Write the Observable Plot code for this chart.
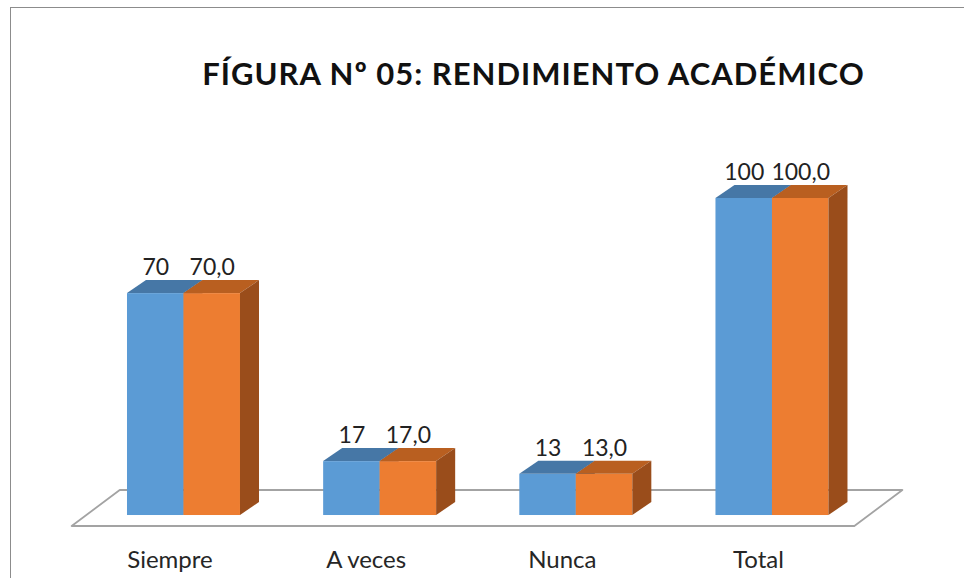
<!DOCTYPE html>
<html>
<head>
<meta charset="utf-8">
<script src="https://cdn.jsdelivr.net/npm/d3@7"></script>
<script src="https://cdn.jsdelivr.net/npm/@observablehq/plot@0.6"></script>
<style>
  html, body { margin: 0; padding: 0; background: #fff; }
  #wrap { position: relative; width: 964px; height: 578px; overflow: hidden; }
  #border { position: absolute; left: 10px; top: 7px; width: 2000px; height: 2000px;
            border-left: 1.5px solid #8c8c8c; border-top: 1.5px solid #8c8c8c; pointer-events: none; }
</style>
</head>
<body>
<div id="wrap"><div id="border"></div></div>
<script>
// ---- data ----
const title = "FÍGURA Nº 05: RENDIMIENTO ACADÉMICO";
const categories = ["Siempre", "A veces", "Nunca", "Total"];
const frecuencia = [70, 17, 13, 100];
const porcentaje = [70.0, 17.0, 13.0, 100.0];
const frecuenciaLabels = ["70", "17", "13", "100"];
const porcentajeLabels = ["70,0", "17,0", "13,0", "100,0"];

// ---- styling / geometry (data units) ----
const frontColors = ["#5B9BD5", "#ED7D31"];
const topColors = ["#4677A6", "#B95F20"];
const sideColors = ["#3E6A94", "#9A4D1B"];
const barW = 0.288;          // width of one bar in category units
const depthX = 0.097;        // 3D depth offset in x (category units)
const depthY = 4.1;          // 3D depth offset in y (value units)

const series = [frecuencia, porcentaje];
const seriesLabels = [frecuenciaLabels, porcentajeLabels];
const bars = [];
series.forEach((vals, s) => {
  vals.forEach((v, i) => {
    const x0 = i - barW + s * barW;
    bars.push({id: `${s}-${i}`, s, i, v, x0, x1: x0 + barW, label: seriesLabels[s][i]});
  });
});

const topPts = [], sidePts = [];
for (const b of bars) {
  topPts.push({id: b.id, s: b.s, y: b.v, xa: b.x0, xb: b.x1});
  topPts.push({id: b.id, s: b.s, y: b.v + depthY, xa: b.x0 + depthX, xb: b.x1 + depthX});
  sidePts.push({id: b.id, s: b.s, x: b.x1, ya: 0, yb: b.v});
  sidePts.push({id: b.id, s: b.s, x: b.x1 + depthX, ya: depthY, yb: b.v + depthY});
}

// floor parallelogram derived from category extent
const n = categories.length;
const floor = [
  {y: -3.47, xa: -0.57, xb: (n - 1) + 0.42},
  {y: 7.89, xa: -0.57 + 0.245, xb: (n - 1) + 0.42 + 0.245}
];

const layer = (s) => [
  Plot.rect(bars.filter(b => b.s === s), {x1: "x0", x2: "x1", y1: 0, y2: "v", fill: frontColors[s]}),
  Plot.areaX(topPts.filter(p => p.s === s), {y: "y", x1: "xa", x2: "xb", z: "id", fill: topColors[s]}),
  Plot.areaY(sidePts.filter(p => p.s === s), {x: "x", y1: "ya", y2: "yb", z: "id", fill: sideColors[s]})
];

const chart = Plot.plot({
  width: 964,
  height: 578,
  marginTop: 0, marginBottom: 0, marginLeft: 0, marginRight: 0,
  style: {background: "transparent", fontFamily: "Lato, 'Liberation Sans', sans-serif"},
  x: {type: "linear", domain: [-0.9354, 3.979], axis: null},
  y: {type: "linear", domain: [-19.87, 162.46], axis: null},
  marks: [
    Plot.areaX(floor, {y: "y", x1: "xa", x2: "xb", fill: "white", stroke: "#a3a3a3", strokeWidth: 1.8}),
    ...layer(0),
    ...layer(1),
    Plot.text(bars, {x: d => (d.x0 + d.x1) / 2, y: "v", text: "label", dy: -26,
      fontSize: 23, fill: "#222", textAnchor: "middle"}),
    Plot.text(categories, {x: (d, i) => i, y: 0, text: d => d, dy: 45, dx: -14,
      fontSize: 24, fill: "#262626", textAnchor: "middle"}),
    Plot.text([title], {frameAnchor: "top", text: d => d, dx: 51, dy: 75, lineAnchor: "middle",
      fontSize: 31, fontWeight: "bold", fill: "#111"})
  ]
});
d3.select(chart).selectAll("text").filter(function() { return this.textContent === title; })
  .style("letter-spacing", "1px");
document.getElementById("wrap").prepend(chart);
</script>
</body>
</html>
